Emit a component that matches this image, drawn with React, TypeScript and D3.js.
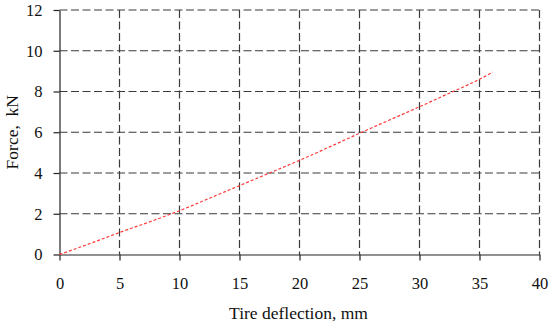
import * as d3 from "d3";
import React, { useRef, useEffect } from "react";

// tire load curve
const deflection = [0, 2.5, 5, 7.5, 10, 12.5, 15, 17.5, 20, 22.5, 25, 27.5, 30, 32.5, 35, 36.1];
const force = [0, 0.53, 1.08, 1.6, 2.15, 2.76, 3.38, 4.0, 4.62, 5.28, 5.95, 6.6, 7.25, 7.92, 8.6, 8.95];
const xTicks = [0, 5, 10, 15, 20, 25, 30, 35, 40];
const yTicks = [0, 2, 4, 6, 8, 10, 12];

const width = 550;
const height = 325;
const margin = { top: 10, right: 10.5, bottom: 70.5, left: 59.5 };
const font = "'Liberation Serif', 'DejaVu Serif', serif";

export default function App() {
    const ref = useRef<SVGSVGElement>(null);

    useEffect(() => {
        const svg = d3.select(ref.current);
        svg.selectAll("*").remove();

        const chartWidth = width - margin.left - margin.right;
        const chartHeight = height - margin.top - margin.bottom;

        const x = d3.scaleLinear().domain([0, 40]).range([0, chartWidth]);
        const y = d3.scaleLinear().domain([0, 12]).range([chartHeight, 0]);

        const g = svg.append("g")
            .attr("transform", `translate(${margin.left},${margin.top})`);

        // dashed grid
        const grid = g.append("g")
            .attr("stroke", "#3a3a3a")
            .attr("stroke-width", 1.2)
            .attr("stroke-dasharray", "8,3.5");

        grid.selectAll(".vgrid")
            .data(xTicks.filter(d => d > 0))
            .enter()
            .append("line")
            .attr("x1", d => x(d))
            .attr("x2", d => x(d))
            .attr("y1", 0)
            .attr("y2", chartHeight);

        grid.selectAll(".hgrid")
            .data(yTicks.filter(d => d > 0))
            .enter()
            .append("line")
            .attr("x1", 0)
            .attr("x2", chartWidth)
            .attr("y1", d => y(d))
            .attr("y2", d => y(d));

        // axes
        const xAxis = g.append("g")
            .attr("transform", `translate(0,${chartHeight})`)
            .call(d3.axisBottom(x).tickValues(xTicks).tickSize(6).tickPadding(17).tickSizeOuter(0));

        const yAxis = g.append("g")
            .call(d3.axisLeft(y).tickValues(yTicks).tickSize(6).tickPadding(11).tickSizeOuter(0));

        [xAxis, yAxis].forEach(a => {
            a.select(".domain").attr("stroke", "#222").attr("stroke-width", 1.2);
            a.selectAll(".tick line").attr("stroke", "#222").attr("stroke-width", 1.2);
            a.selectAll(".tick text")
                .attr("fill", "#111")
                .style("font-family", font)
                .style("font-size", "16.5px");
        });

        // curve
        const line = d3.line<number>()
            .x((d, i) => x(deflection[i]))
            .y(d => y(d))
            .curve(d3.curveMonotoneX);

        g.append("path")
            .datum(force)
            .attr("d", line)
            .attr("fill", "none")
            .attr("stroke", "#ff3b3b")
            .attr("stroke-width", 1.2)
            .attr("stroke-dasharray", "3,2");

        // titles
        svg.append("text")
            .text("Tire deflection, mm")
            .attr("x", 298.5)
            .attr("y", 319)
            .attr("text-anchor", "middle")
            .attr("fill", "#111")
            .style("font-family", font)
            .style("font-size", "17.5px");

        svg.append("text")
            .text("Force,  kN")
            .attr("transform", `translate(18,${margin.top + chartHeight / 2}) rotate(-90)`)
            .attr("text-anchor", "middle")
            .attr("fill", "#111")
            .style("font-family", font)
            .style("font-size", "17.5px")
            .style("white-space", "pre");
    }, []);

    return (
        <svg ref={ref} width={width} height={height}
             style={{ position: "absolute", left: 0, top: 0, background: "#fff" }} />
    );
}
